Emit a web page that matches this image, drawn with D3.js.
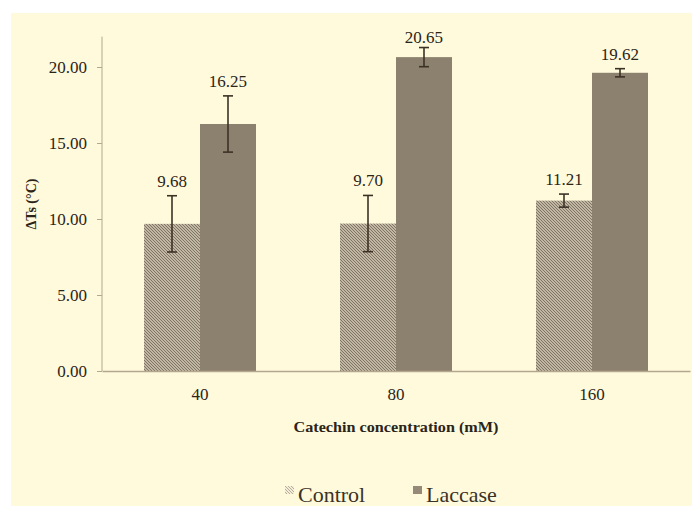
<!DOCTYPE html>
<html><head><meta charset="utf-8">
<script src="https://cdn.jsdelivr.net/npm/d3@7/dist/d3.min.js"></script>
<style>body{margin:0;background:#fff;}</style>
</head><body>
<svg id="c" width="692" height="506"></svg>
<script>
const categories = ["40", "80", "160"];
const seriesNames = ["Control", "Laccase"];
const controlValues = [9.68, 9.70, 11.21];
const laccaseValues = [16.25, 20.65, 19.62];
const controlErrors = [1.85, 1.85, 0.43];
const laccaseErrors = [1.85, 0.63, 0.27];
const yTicks = [0, 5, 10, 15, 20];
const yMax = 22;

const svg = d3.select("#c");
const defs = svg.append("defs");
const pat = defs.append("pattern").attr("id","hatch").attr("patternUnits","userSpaceOnUse")
  .attr("width",3).attr("height",3);
pat.append("rect").attr("width",3).attr("height",3).attr("fill","#ddd4c1");
pat.append("path").attr("d","M-1,-1 L4,4 M-1,2 L1,4 M2,-1 L4,1").attr("stroke","#7a6e5c").attr("stroke-width",1.1);
const pat2 = defs.append("pattern").attr("id","hatchL").attr("patternUnits","userSpaceOnUse")
  .attr("width",3).attr("height",3);
pat2.append("rect").attr("width",3).attr("height",3).attr("fill","#f3ecd6");
pat2.append("path").attr("d","M-1,-1 L4,4").attr("stroke","#b9ae98").attr("stroke-width",1);

svg.append("rect").attr("x",11).attr("y",13).attr("width",681).attr("height",493).attr("fill","#fffadc");

const x0 = d3.scaleBand().domain(categories).range([102,690]).paddingInner(0.4286).paddingOuter(0.2143);
const x1 = d3.scaleBand().domain(seriesNames).range([0, x0.bandwidth()]);
const y = d3.scaleLinear().domain([0,yMax]).range([371,36.6]);

const textColor = "#2b2418";
const axisColor = "#b3a78f";
const serif = sel => sel.attr("font-family","Liberation Serif").style("font-family","Liberation Serif");

const data = categories.map((c,i)=>[
  {cat:c, s:"Control", v:controlValues[i], e:controlErrors[i]},
  {cat:c, s:"Laccase", v:laccaseValues[i], e:laccaseErrors[i]}
]).flat();

svg.selectAll("rect.bar").data(data).enter().append("rect").attr("class","bar")
  .attr("x",d=>x0(d.cat)+x1(d.s)).attr("width",x1.bandwidth())
  .attr("y",d=>y(d.v)).attr("height",d=>y(0)-y(d.v))
  .attr("fill",d=>d.s==="Control"?"url(#hatch)":"#8c806e");

// error bars
const cx = d=>x0(d.cat)+x1(d.s)+x1.bandwidth()/2;
const eb = svg.selectAll("g.eb").data(data).enter().append("g").attr("class","eb")
  .attr("stroke","#3b3226").attr("stroke-width",1.6);
eb.append("line").attr("x1",cx).attr("x2",cx)
  .attr("y1",d=>y(d.v+d.e)).attr("y2",d=>y(d.v-d.e));
eb.append("line").attr("x1",d=>cx(d)-5).attr("x2",d=>cx(d)+5)
  .attr("y1",d=>y(d.v+d.e)).attr("y2",d=>y(d.v+d.e));
eb.append("line").attr("x1",d=>cx(d)-5).attr("x2",d=>cx(d)+5)
  .attr("y1",d=>y(d.v-d.e)).attr("y2",d=>y(d.v-d.e));

// value labels
svg.selectAll("text.val").data(data).enter().append("text").attr("class","val")
  .attr("x",cx)
  .attr("y",d=>Math.max(y(d.v+d.e)-15, 37)).attr("dy","0.35em")
  .attr("text-anchor","middle").attr("font-size",17).attr("fill",textColor)
  .call(serif)
  .text(d=>d.v.toFixed(2));

// y axis
const yAxis = d3.axisLeft(y).tickValues(yTicks).tickSize(5).tickPadding(10).tickFormat(d=>d.toFixed(2));
const gy = svg.append("g").attr("transform","translate(102,0)").call(yAxis);
gy.call(serif);
gy.select(".domain").attr("stroke",axisColor).attr("d",`M0,${y(yMax)}V${y(0)}`);
gy.selectAll(".tick line").attr("stroke",axisColor);
gy.selectAll(".tick text").call(serif).attr("font-size",17).attr("fill",textColor);

// x axis
const xAxis = d3.axisBottom(x0).tickSize(0).tickPadding(17);
const gx = svg.append("g").attr("transform","translate(0,371)").call(xAxis);
gx.call(serif);
gx.select(".domain").attr("stroke",axisColor).attr("stroke-width",1.3);
gx.selectAll(".tick text").call(serif).attr("font-size",17).attr("fill",textColor);

// axis titles
svg.append("text").attr("x",396).attr("y",427).attr("dy","0.35em").attr("text-anchor","middle")
  .call(serif)
  .attr("font-weight","bold").attr("font-size",15).attr("fill",textColor)
  .attr("textLength",205).attr("lengthAdjust","spacingAndGlyphs")
  .text("Catechin concentration (mM)");
svg.append("text").attr("transform","translate(31,204) rotate(-90)").attr("dy","0.35em").attr("text-anchor","middle")
  .call(serif)
  .attr("font-weight","bold").attr("font-size",14).attr("fill",textColor)
  .text("ΔTs (°C)");

// legend
const legend = [{name:"Control", fill:"url(#hatchL)", x:285}, {name:"Laccase", fill:"#958a78", x:413}];
const lg = svg.selectAll("g.lg").data(legend).enter().append("g").attr("class","lg");
lg.append("rect").attr("x",d=>d.x).attr("y",486).attr("width",9).attr("height",8).attr("fill",d=>d.fill);
lg.append("text").attr("x",d=>d.x+13).attr("y",502).attr("font-size",22)
  .call(serif)
  .attr("fill","#3a3226").text(d=>d.name);
</script>
</body></html>
